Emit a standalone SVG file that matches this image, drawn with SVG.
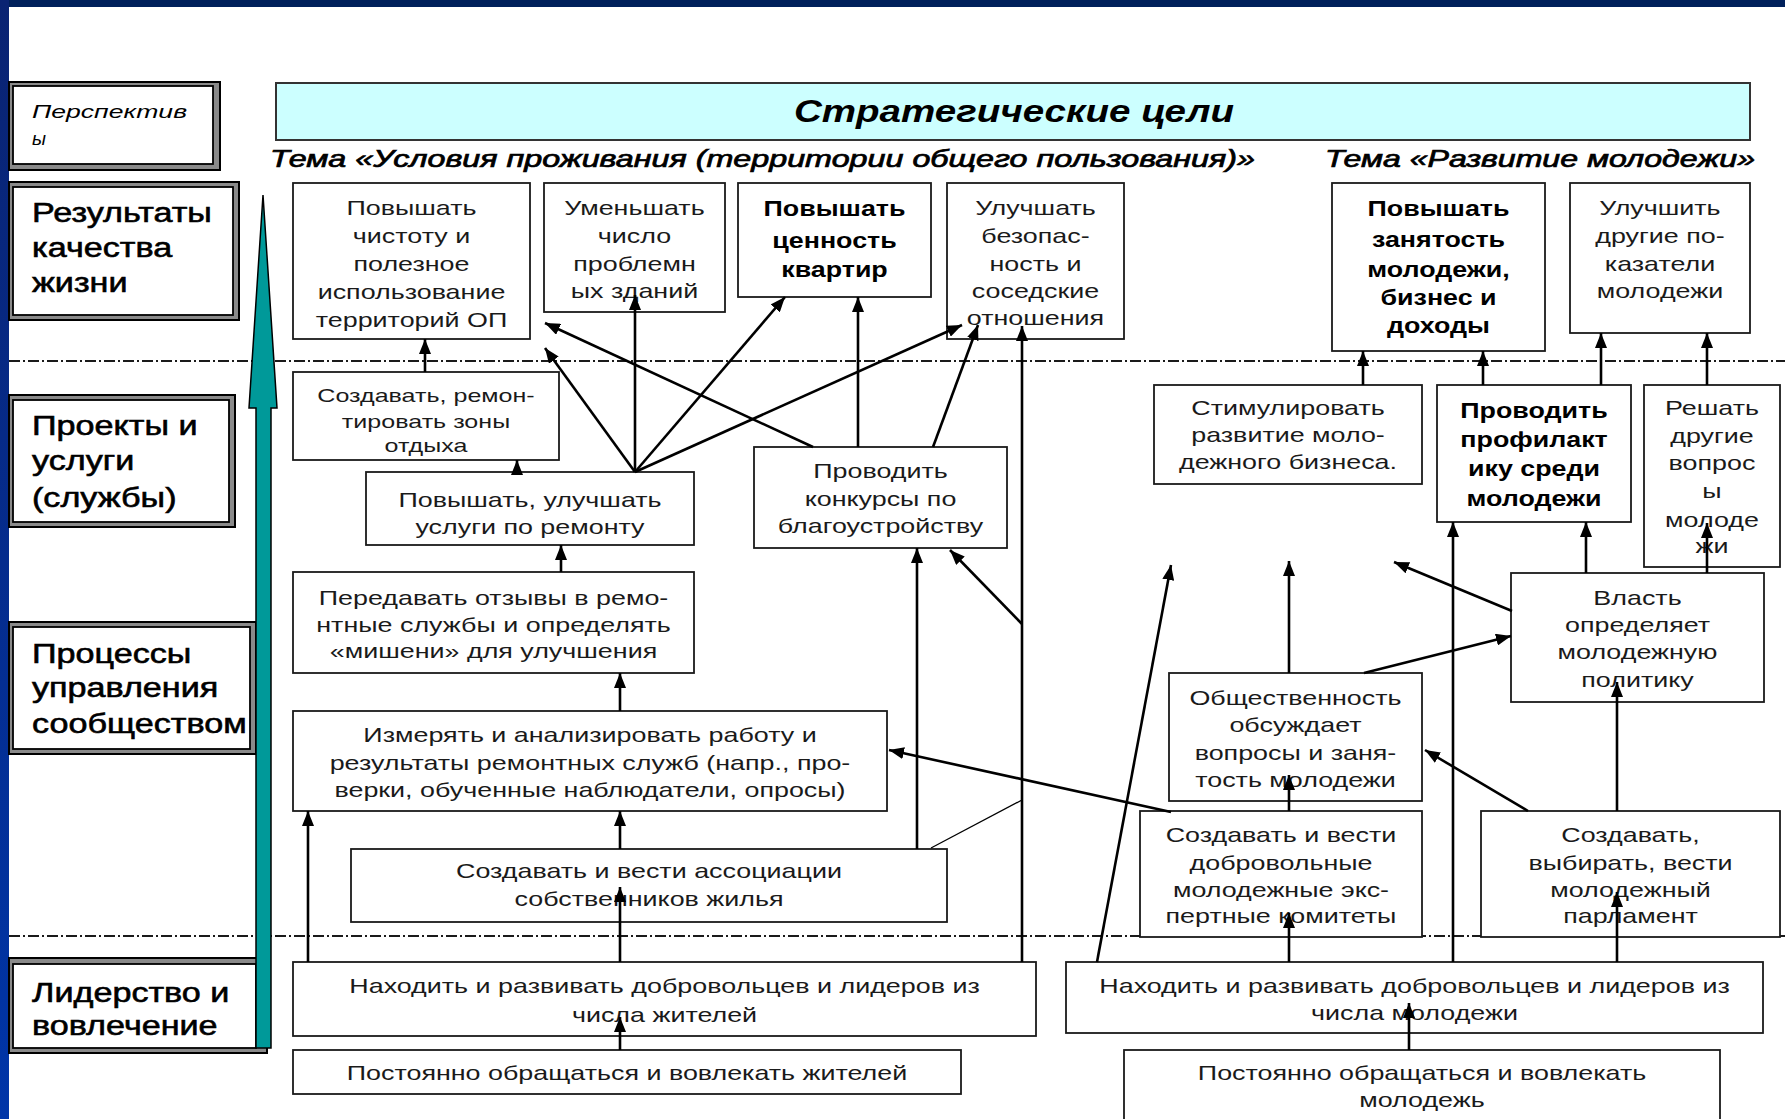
<svg xmlns="http://www.w3.org/2000/svg" width="1785" height="1119" viewBox="0 0 1785 1119">
<defs>
<linearGradient id="lb" x1="0" y1="0" x2="0" y2="1"><stop offset="0" stop-color="#0a2372"/><stop offset="1" stop-color="#0035a8"/></linearGradient>
<marker id="ah" markerUnits="userSpaceOnUse" markerWidth="16" markerHeight="12" refX="15" refY="6" orient="auto"><path d="M0,0 L15,6 L0,12 z" fill="#000"/></marker>
</defs>
<style>
.box{fill:#fff;stroke:#1a1a1a;stroke-width:1.8}
.t{font-family:"Liberation Sans",Arial,sans-serif;font-size:21px;fill:#1a1a1a;text-anchor:middle}
.bd{font-weight:bold;font-size:22px;fill:#000}
.sm{font-size:19px}
.lab{font-family:"Liberation Sans",Arial,sans-serif;font-size:28px;fill:#000;stroke:#000;stroke-width:0.6}
.fo{fill:#8a8a8a;stroke:#000;stroke-width:2}
.fi{fill:#fff;stroke:#000;stroke-width:1.8}
.c{fill:none;stroke:#000;stroke-width:2.6;marker-end:url(#ah)}
.thin{fill:none;stroke:#000;stroke-width:1.3}
.sep{stroke:#1a1a1a;stroke-width:2;stroke-dasharray:11 3 2 3}
.ttl{font-family:"Liberation Sans",Arial,sans-serif;font-style:italic;font-weight:bold;fill:#000}
.it{font-family:"Liberation Sans",Arial,sans-serif;font-style:italic;font-weight:normal;fill:#000}
.tema{stroke:#000;stroke-width:0.7}
</style>
<rect x="0" y="0" width="1785" height="1119" fill="#fff"/>
<rect x="0" y="0" width="1785" height="7" fill="#00205b"/>
<rect x="0" y="0" width="9" height="1119" fill="url(#lb)"/>

<g id="separators">
<line class="sep" x1="9" y1="361" x2="1785" y2="361"/>
<line class="sep" x1="9" y1="936" x2="1785" y2="936"/>
</g>

<g id="perspectives">
<g id="lab-persp">
<rect class="fo" x="9" y="82" width="211" height="88"/>
<rect class="fi" x="13" y="86" width="200" height="78"/>
<text class="it" font-size="19" x="32" y="118" textLength="155" lengthAdjust="spacingAndGlyphs">Перспектив</text>
<text class="it" font-size="19" x="32" y="145">ы</text>
</g>
<g id="lab-results">
<rect class="fo" x="9" y="182" width="230" height="138"/>
<rect class="fi" x="13" y="187" width="220" height="128"/>
<text class="lab" transform="translate(32 0) scale(1.22 1)"><tspan x="0" y="222">Результаты</tspan><tspan x="0" y="257">качества</tspan><tspan x="0" y="292">жизни</tspan></text>
</g>
<g id="lab-projects">
<rect class="fo" x="9" y="395" width="226" height="132"/>
<rect class="fi" x="13" y="400" width="216" height="122"/>
<text class="lab" transform="translate(32 0) scale(1.22 1)"><tspan x="0" y="435">Проекты и</tspan><tspan x="0" y="470">услуги</tspan><tspan x="0" y="507">(службы)</tspan></text>
</g>
<g id="lab-processes">
<rect class="fo" x="9" y="622" width="247" height="132"/>
<rect class="fi" x="13" y="627" width="237" height="122"/>
<text class="lab" transform="translate(32 0) scale(1.22 1)"><tspan x="0" y="663">Процессы</tspan><tspan x="0" y="697">управления</tspan><tspan x="0" y="733">сообществом</tspan></text>
</g>
<g id="lab-leadership">
<rect class="fo" x="9" y="958" width="258" height="95"/>
<rect class="fi" x="13" y="964" width="243" height="84"/>
<text class="lab" transform="translate(32 0) scale(1.22 1)"><tspan x="0" y="1002">Лидерство и</tspan><tspan x="0" y="1035">вовлечение</tspan></text>
</g>
</g>

<g id="header">
<rect x="276" y="83" width="1474" height="57" fill="#ccffff" stroke="#333" stroke-width="2"/>
<text class="ttl" font-size="32" x="794" y="122" textLength="440" lengthAdjust="spacingAndGlyphs">Стратегические цели</text>
<text class="it tema" font-size="23" x="270" y="167" textLength="985" lengthAdjust="spacingAndGlyphs">Тема «Условия проживания (территории общего пользования)»</text>
<text class="it tema" font-size="23" x="1325" y="167" textLength="430" lengthAdjust="spacingAndGlyphs">Тема «Развитие молодежи»</text>
</g>

<g id="nodes">
<g id="n1"><rect class="box" x="293" y="183" width="237" height="156"/>
<text class="t" transform="translate(411.5 0) scale(1.28 1)"><tspan x="0" y="215">Повышать</tspan><tspan x="0" y="243">чистоту и</tspan><tspan x="0" y="271">полезное</tspan><tspan x="0" y="299">использование</tspan><tspan x="0" y="327">территорий ОП</tspan></text></g>
<g id="n2"><rect class="box" x="544" y="183" width="181" height="129"/>
<text class="t" transform="translate(634.5 0) scale(1.28 1)"><tspan x="0" y="215">Уменьшать</tspan><tspan x="0" y="243">число</tspan><tspan x="0" y="271">проблемн</tspan><tspan x="0" y="298">ых зданий</tspan></text></g>
<g id="n3"><rect class="box" x="738" y="183" width="193" height="114"/>
<text class="t bd" transform="translate(834.5 0) scale(1.22 1)"><tspan x="0" y="216">Повышать</tspan><tspan x="0" y="248">ценность</tspan><tspan x="0" y="277">квартир</tspan></text></g>
<g id="n4"><rect class="box" x="947" y="183" width="177" height="156"/>
<text class="t" transform="translate(1035.5 0) scale(1.28 1)"><tspan x="0" y="215">Улучшать</tspan><tspan x="0" y="243">безопас-</tspan><tspan x="0" y="271">ность и</tspan><tspan x="0" y="298">соседские</tspan><tspan x="0" y="325">отношения</tspan></text></g>
<g id="n5"><rect class="box" x="1332" y="183" width="213" height="168"/>
<text class="t bd" transform="translate(1438.5 0) scale(1.22 1)"><tspan x="0" y="216">Повышать</tspan><tspan x="0" y="247">занятость</tspan><tspan x="0" y="277">молодежи,</tspan><tspan x="0" y="305">бизнес и</tspan><tspan x="0" y="333">доходы</tspan></text></g>
<g id="n6"><rect class="box" x="1570" y="183" width="180" height="150"/>
<text class="t" transform="translate(1660 0) scale(1.28 1)"><tspan x="0" y="215">Улучшить</tspan><tspan x="0" y="243">другие по-</tspan><tspan x="0" y="271">казатели</tspan><tspan x="0" y="298">молодежи</tspan></text></g>

<g id="n7"><rect class="box" x="293" y="372" width="266" height="88"/>
<text class="t sm" transform="translate(426 0) scale(1.32 1)"><tspan x="0" y="402">Создавать, ремон-</tspan><tspan x="0" y="428">тировать зоны</tspan><tspan x="0" y="452">отдыха</tspan></text></g>
<g id="n8"><rect class="box" x="366" y="472" width="328" height="73"/>
<text class="t" transform="translate(530 0) scale(1.28 1)"><tspan x="0" y="507">Повышать, улучшать</tspan><tspan x="0" y="534">услуги по ремонту</tspan></text></g>
<g id="n9"><rect class="box" x="754" y="447" width="253" height="101"/>
<text class="t" transform="translate(880.5 0) scale(1.28 1)"><tspan x="0" y="478">Проводить</tspan><tspan x="0" y="506">конкурсы по</tspan><tspan x="0" y="533">благоустройству</tspan></text></g>
<g id="n10"><rect class="box" x="1154" y="385" width="268" height="99"/>
<text class="t" transform="translate(1288 0) scale(1.28 1)"><tspan x="0" y="415">Стимулировать</tspan><tspan x="0" y="442">развитие моло-</tspan><tspan x="0" y="469">дежного бизнеса.</tspan></text></g>
<g id="n11"><rect class="box" x="1437" y="385" width="194" height="137"/>
<text class="t bd" transform="translate(1534 0) scale(1.22 1)"><tspan x="0" y="418">Проводить</tspan><tspan x="0" y="447">профилакт</tspan><tspan x="0" y="476">ику среди</tspan><tspan x="0" y="506">молодежи</tspan></text></g>
<g id="n12"><rect class="box" x="1644" y="385" width="136" height="182"/>
<text class="t" transform="translate(1712 0) scale(1.28 1)"><tspan x="0" y="415">Решать</tspan><tspan x="0" y="443">другие</tspan><tspan x="0" y="470">вопрос</tspan><tspan x="0" y="498">ы</tspan><tspan x="0" y="527">молоде</tspan><tspan x="0" y="553">жи</tspan></text></g>

<g id="n13"><rect class="box" x="293" y="572" width="401" height="101"/>
<text class="t" transform="translate(493.5 0) scale(1.28 1)"><tspan x="0" y="605">Передавать отзывы в ремо-</tspan><tspan x="0" y="632">нтные службы и определять</tspan><tspan x="0" y="658">«мишени» для улучшения</tspan></text></g>
<g id="n14"><rect class="box" x="293" y="711" width="594" height="100"/>
<text class="t" transform="translate(590 0) scale(1.28 1)"><tspan x="0" y="742">Измерять и анализировать работу и</tspan><tspan x="0" y="770">результаты ремонтных служб (напр., про-</tspan><tspan x="0" y="797">верки, обученные наблюдатели, опросы)</tspan></text></g>
<g id="n15"><rect class="box" x="351" y="849" width="596" height="73"/>
<text class="t" transform="translate(649 0) scale(1.28 1)"><tspan x="0" y="878">Создавать и вести ассоциации</tspan><tspan x="0" y="906">собственников жилья</tspan></text></g>
<g id="n16"><rect class="box" x="1169" y="673" width="253" height="128"/>
<text class="t" transform="translate(1295.5 0) scale(1.28 1)"><tspan x="0" y="705">Общественность</tspan><tspan x="0" y="732">обсуждает</tspan><tspan x="0" y="760">вопросы и заня-</tspan><tspan x="0" y="787">тость молодежи</tspan></text></g>
<g id="n17"><rect class="box" x="1511" y="573" width="253" height="129"/>
<text class="t" transform="translate(1637.5 0) scale(1.28 1)"><tspan x="0" y="605">Власть</tspan><tspan x="0" y="632">определяет</tspan><tspan x="0" y="659">молодежную</tspan><tspan x="0" y="687">политику</tspan></text></g>
<g id="n18"><rect class="box" x="1140" y="811" width="282" height="126"/>
<text class="t" transform="translate(1281 0) scale(1.28 1)"><tspan x="0" y="842">Создавать и вести</tspan><tspan x="0" y="870">добровольные</tspan><tspan x="0" y="897">молодежные экс-</tspan><tspan x="0" y="923">пертные комитеты</tspan></text></g>
<g id="n19"><rect class="box" x="1481" y="811" width="299" height="126"/>
<text class="t" transform="translate(1630.5 0) scale(1.28 1)"><tspan x="0" y="842">Создавать,</tspan><tspan x="0" y="870">выбирать, вести</tspan><tspan x="0" y="897">молодежный</tspan><tspan x="0" y="923">парламент</tspan></text></g>

<g id="n20"><rect class="box" x="293" y="962" width="743" height="74"/>
<text class="t" transform="translate(664.5 0) scale(1.28 1)"><tspan x="0" y="993">Находить и развивать добровольцев и лидеров из</tspan><tspan x="0" y="1022">числа жителей</tspan></text></g>
<g id="n21"><rect class="box" x="293" y="1050" width="668" height="44"/>
<text class="t" transform="translate(627 0) scale(1.28 1)"><tspan x="0" y="1080">Постоянно обращаться и вовлекать жителей</tspan></text></g>
<g id="n22"><rect class="box" x="1066" y="962" width="697" height="71"/>
<text class="t" transform="translate(1414.5 0) scale(1.28 1)"><tspan x="0" y="993">Находить и развивать добровольцев и лидеров из</tspan><tspan x="0" y="1020">числа молодежи</tspan></text></g>
<g id="n23"><rect class="box" x="1124" y="1050" width="596" height="80"/>
<text class="t" transform="translate(1422 0) scale(1.28 1)"><tspan x="0" y="1080">Постоянно обращаться и вовлекать</tspan><tspan x="0" y="1107">молодежь</tspan></text></g>
</g>

<g id="connectors">
<line class="c" x1="425" y1="372" x2="425" y2="339"/>
<line class="c" x1="517" y1="472" x2="517" y2="460"/>
<line class="c" x1="561" y1="572" x2="561" y2="545"/>
<line class="c" x1="620" y1="711" x2="620" y2="673"/>
<line class="c" x1="620" y1="849" x2="620" y2="811"/>
<line class="c" x1="620" y1="962" x2="620" y2="887"/>
<line class="c" x1="620" y1="1050" x2="620" y2="1017"/>
<line class="c" x1="308" y1="962" x2="308" y2="811"/>
<line class="c" x1="1022" y1="962" x2="1022" y2="326"/>
<line class="c" x1="1022" y1="624" x2="950" y2="550"/>
<line class="thin" x1="1022" y1="800" x2="931" y2="848"/>
<line class="c" x1="917" y1="849" x2="917" y2="548"/>
<line class="c" x1="858" y1="447" x2="858" y2="297"/>
<line class="c" x1="933" y1="447" x2="978" y2="325"/>
<line class="c" x1="813" y1="447" x2="545" y2="323"/>
<line class="c" x1="635" y1="472" x2="545" y2="348"/>
<line class="c" x1="635" y1="472" x2="635" y2="295"/>
<line class="c" x1="635" y1="472" x2="785" y2="297"/>
<line class="c" x1="635" y1="472" x2="962" y2="325"/>
<line class="c" x1="1171" y1="812" x2="889" y2="750"/>
<line class="c" x1="1097" y1="962" x2="1171" y2="565"/>
<line class="c" x1="1289" y1="673" x2="1289" y2="561"/>
<line class="c" x1="1289" y1="811" x2="1289" y2="775"/>
<line class="c" x1="1289" y1="962" x2="1289" y2="913"/>
<line class="c" x1="1409" y1="1050" x2="1409" y2="1003"/>
<line class="c" x1="1453" y1="962" x2="1453" y2="522"/>
<line class="c" x1="1617" y1="962" x2="1617" y2="892"/>
<line class="c" x1="1617" y1="811" x2="1617" y2="682"/>
<line class="c" x1="1528" y1="811" x2="1425" y2="750"/>
<line class="c" x1="1364" y1="673" x2="1511" y2="636"/>
<line class="c" x1="1512" y1="611" x2="1394" y2="562"/>
<line class="c" x1="1586" y1="573" x2="1586" y2="522"/>
<line class="c" x1="1707" y1="573" x2="1707" y2="523"/>
<line class="c" x1="1363" y1="385" x2="1363" y2="351"/>
<line class="c" x1="1483" y1="385" x2="1483" y2="351"/>
<line class="c" x1="1601" y1="385" x2="1601" y2="333"/>
<line class="c" x1="1707" y1="385" x2="1707" y2="333"/>
</g>

<g id="axis-arrow">
<polygon points="263,195 277,408 271,408 271,1048 256,1048 256,408 249,408" fill="#009999" stroke="#000" stroke-width="1.5"/>
</g>
</svg>
